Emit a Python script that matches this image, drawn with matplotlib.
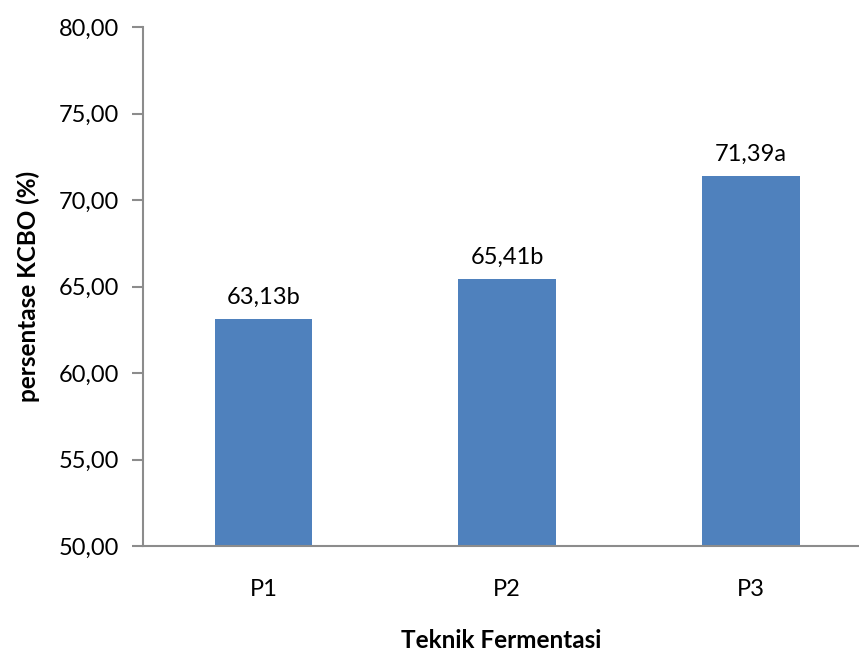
import matplotlib.pyplot as plt

plt.rcParams['font.family'] = ['Lato', 'DejaVu Sans']

kategori = ['P1', 'P2', 'P3']
kcbo = [63.13, 65.41, 71.39]
notasi = ['b', 'b', 'a']
yticks = [50, 55, 60, 65, 70, 75, 80]

fig = plt.figure(figsize=(8.59, 6.51), dpi=100)
ax = fig.add_axes([143/859, 105/651, (859-143)/859, (546-27)/651])

x = range(len(kategori))
bars = ax.bar(x, kcbo, width=0.40, color='#4f81bd', zorder=2)

for xi, v, n in zip(x, kcbo, notasi):
    ax.annotate(f"{v:.2f}".replace('.', ',') + n, (xi, v),
                xytext=(0, 8), textcoords='offset points',
                ha='center', va='bottom', fontsize=17)

ax.set_ylim(50, 80)
ax.set_xlim(-0.494, 2.443)
ax.set_yticks(yticks)
ax.set_yticklabels([f"{t:.2f}".replace('.', ',') for t in yticks], fontsize=17)
ax.set_xticks(list(x))
ax.set_xticklabels(kategori, fontsize=17)

for s in ['top', 'right']:
    ax.spines[s].set_visible(False)
for s in ['left', 'bottom']:
    ax.spines[s].set_color('#8c8c8c')
    ax.spines[s].set_linewidth(1.5)
ax.tick_params(axis='y', length=8, width=1.5, color='#8c8c8c', pad=9)
ax.tick_params(axis='x', length=0, pad=24)

ax.set_xlabel("Teknik Fermentasi", fontsize=17.5, fontweight='bold', labelpad=21)
ax.set_ylabel("persentase KCBO (%)", fontsize=17.5, fontweight='bold', labelpad=14)

fig.savefig("out.png", dpi=100)
